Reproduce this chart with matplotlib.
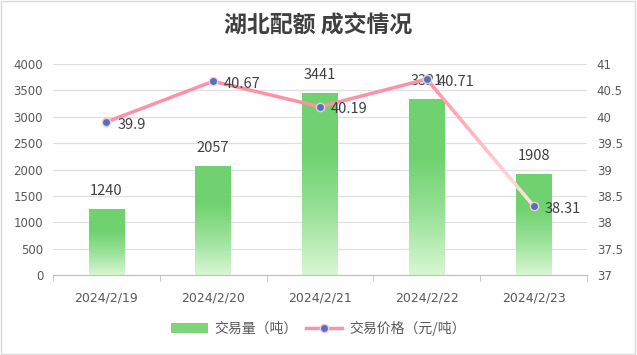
import matplotlib.pyplot as plt
import numpy as np
from matplotlib.colors import LinearSegmentedColormap
from matplotlib.lines import Line2D
from matplotlib.patches import Patch, Rectangle

plt.rcParams['font.family'] = ['Noto Sans CJK SC', 'DejaVu Sans']

dates = ["2024/2/19", "2024/2/20", "2024/2/21", "2024/2/22", "2024/2/23"]
volume = [1240, 2057, 3441, 3321, 1908]
price = [39.9, 40.67, 40.19, 40.71, 38.31]

TXT = "#595959"
fig = plt.figure(figsize=(6.37, 3.55), dpi=100)
fig.patches.append(Rectangle((0.002, 0.003), 0.995, 0.994, transform=fig.transFigure,
                             fill=False, edgecolor="#d9d9d9", linewidth=1))
ax = fig.add_axes([0.083, 0.225, 0.8385, 0.595])
x = np.arange(len(dates))

# bars with vertical gradient
bars = ax.bar(x, volume, width=0.33, color="none", zorder=2)
cmap = LinearSegmentedColormap.from_list("g", ["#d8f7d2", "#9be29a", "#6fd26f", "#6fd26f"])
grad = np.linspace(0, 1, 256).reshape(-1, 1)
for b in bars:
    ax.imshow(grad, cmap=cmap, aspect="auto", origin="lower", zorder=2,
              extent=[b.get_x(), b.get_x() + b.get_width(), 0, b.get_height()])
for xi, v in zip(x, volume):
    ax.annotate(str(v), (xi, v), xytext=(0, 8.5), textcoords="offset points",
                ha="center", va="bottom", fontsize=10.5, color="#404040")

ax.set_xlim(-0.5, len(dates) - 0.5)
ax.set_ylim(0, 4000)
ax.set_yticks(range(0, 4001, 500))
ax.set_xticks(x)
ax.set_xticklabels(dates, fontsize=9, color=TXT, family="DejaVu Sans")
ax.set_xticks(np.arange(-0.5, len(dates), 1), minor=True)
ax.tick_params(axis="x", which="major", length=0, pad=12)
ax.tick_params(axis="x", which="minor", length=4, color="#bfbfbf")
ax.tick_params(axis="y", length=0, labelsize=8.5, labelcolor=TXT, pad=7)
for lb in ax.get_yticklabels():
    lb.set_family("DejaVu Sans")
ax.grid(axis="y", color="#e0e0e0", linewidth=0.9, zorder=0)
ax.set_axisbelow(True)
for s in ["top", "right", "left"]:
    ax.spines[s].set_visible(False)
ax.spines["bottom"].set_color("#bfbfbf")

ax2 = ax.twinx()
ax2.set_ylim(37, 41)
ax2.set_yticks(np.arange(37, 41.01, 0.5))
ax2.set_yticklabels(["37", "37.5", "38", "38.5", "39", "39.5", "40", "40.5", "41"],
                    family="DejaVu Sans")
ax2.tick_params(axis="y", length=0, labelsize=8.5, labelcolor=TXT, pad=7)
for s in ax2.spines.values():
    s.set_visible(False)
ax2.plot(x[:-1], price[:-1], color="#ff91a6", linewidth=2.5, zorder=3)
# last segment fades out
n = 30
t = np.linspace(0, 1, n + 1)
sx = x[-2] + (x[-1] - x[-2]) * t
sy = price[-2] + (price[-1] - price[-2]) * t
c0 = np.array([1.0, 0.57, 0.65])
c1 = np.array([1.0, 0.90, 0.90])
for i in range(n):
    ax2.plot(sx[i:i + 2], sy[i:i + 2], color=c0 + (c1 - c0) * t[i], linewidth=2.5,
             solid_capstyle="round", zorder=3)
ax2.plot(x, price, linestyle="none", marker="o", markersize=6,
         markerfacecolor="#4a76c0", markeredgecolor="#ffc6cf", markeredgewidth=1, zorder=4)
for xi, p in zip(x, price):
    ax2.annotate(f"{p:g}", (xi, p), xytext=(8, -2), textcoords="offset points",
                 ha="left", va="center", fontsize=10.5, color="#404040")

fig.text(0.5, 0.93, "湖北配额 成交情况", ha="center", va="center",
         fontsize=16.5, fontweight="bold", color="#404040")

handles = [Patch(facecolor="#7dd67a", edgecolor="none"),
           Line2D([], [], color="#ff91a6", linewidth=2.5, marker="o", markersize=6,
                  markerfacecolor="#4a76c0", markeredgecolor="#ffc6cf")]
fig.legend(handles, ["交易量（吨）", "交易价格（元/吨）"], loc="center",
           bbox_to_anchor=(0.5, 0.075), ncol=2, frameon=False, fontsize=10,
           labelcolor=TXT, handlelength=2.6, columnspacing=0.6, handletextpad=0.5)

fig.savefig("out.png", dpi=100)
